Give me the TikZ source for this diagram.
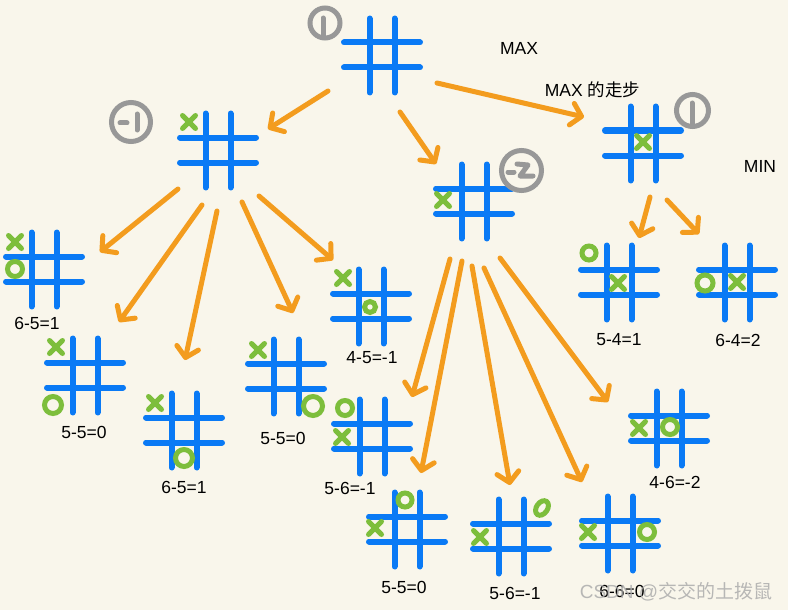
\documentclass[tikz,border=0pt]{standalone}
\usepackage{fontspec}
\setmainfont{Liberation Sans}
\newfontfamily\cjk{Noto Sans CJK SC}
\usetikzlibrary{arrows.meta}
\definecolor{bg}{RGB}{249,246,235}
\definecolor{bblue}{RGB}{10,122,245}
\definecolor{aorange}{RGB}{243,156,30}
\definecolor{mgreen}{RGB}{125,190,60}
\definecolor{rgray}{RGB}{152,152,152}
\definecolor{wgray}{RGB}{172,172,172}
\begin{document}
\begin{tikzpicture}[x=1pt,y=-1pt,
  gridline/.style={bblue,line width=6pt,line cap=round},
  arrowline/.style={aorange,line width=5pt,line cap=round,-{Straight Barb[length=10pt,width=22pt,round]}},
  xline/.style={mgreen,line width=5pt,line cap=round},
  oline/.style={mgreen,line width=5pt},
  ring/.style={rgray,line width=5pt},
  digit/.style={rgray,line width=5pt,line cap=round,line join=round},
  lbl/.style={font=\fontsize{17.5}{19}\selectfont,text=black,inner sep=0pt},
  board/.pic={
    \draw[gridline] (-12.5,-36.5) -- (-12.5,37.5) (12.5,-36.5) -- (12.5,37.5)
                    (-38,-12.5) -- (38,-12.5) (-38,12.5) -- (38,12.5);},
  xmk/.pic={\draw[xline] (-6.5,-6.5) -- (6.5,6.5) (-6.5,6.5) -- (6.5,-6.5);},
]
\useasboundingbox (0,0) rectangle (788,610);
\fill[bg] (0,0) rectangle (788,610);

% ---- boards ----
\coordinate (R) at (382,55);
\coordinate (A) at (218,150);
\coordinate (B) at (474,201);
\coordinate (C) at (643,143);
\coordinate (A1) at (44,269);
\coordinate (A2) at (85,375);
\coordinate (A3) at (184,430);
\coordinate (A4) at (286,376);
\coordinate (A5) at (371,306);
\coordinate (B1) at (372,436);
\coordinate (B2) at (407,529);
\coordinate (B3) at (511,536);
\coordinate (B4) at (620,533);
\coordinate (B5) at (669,428);
\coordinate (C1) at (619,282);
\coordinate (C2) at (737,282);
\foreach \b in {R,A,B,C,A1,A2,A3,A4,A5,B1,B2,B3,B4,B5,C1,C2}
  \pic at (\b) {board};

% ---- marks ----
\pic at (189,122) {xmk};
\pic at (443,200) {xmk};
\pic at (643,142) {xmk};
\pic at (15,242) {xmk};   \draw[oline] (15,269) circle (7.5pt);
\pic at (56,347) {xmk};   \draw[oline] (53,405) circle (8.5pt);
\pic at (155,403) {xmk};  \draw[oline] (184,458) circle (8.5pt);
\pic at (258,350) {xmk};  \draw[oline] (313,406) circle (9.5pt);
\pic at (343,278) {xmk};  \draw[oline] (370,307) circle (5.5pt);
\pic at (342,437) {xmk};  \draw[oline] (345,408) circle (7.5pt);
\pic at (375,528) {xmk};  \draw[oline] (405,500) circle (7pt);
\pic at (480,537) {xmk};
\begin{scope}[shift={(542,508)},rotate=55]
  \draw[oline] (0,0) ellipse (8pt and 5.5pt);
\end{scope}
\pic at (588,532) {xmk};  \draw[oline] (647,532) circle (7.5pt);
\pic at (639,428) {xmk};  \draw[oline] (670,427) circle (7.5pt);
\pic at (618,283) {xmk};  \draw[oline] (589,253) circle (7pt);
\pic at (737,282) {xmk};  \draw[oline] (705,283) circle (8pt);

% ---- circled values ----
\draw[ring] (325,23) circle (15pt);
\draw[digit] (323,18) -- (323,37);
\draw[ring] (131,122) circle (19.5pt);
\draw[digit] (120,123) -- (127,123) (137,114) -- (137,130);
\draw[ring] (521.5,170.5) circle (20pt);
\draw[digit] (508,172) -- (514,172);
\draw[digit] (517,164) -- (528,165) -- (520,176) -- (533,176);
\draw[ring] (692.5,110.5) circle (16pt);
\draw[digit] (692,103) -- (692,124);

% ---- arrows ----
\coordinate (rA) at (328,91);   \coordinate (Ar) at (268,129);
\coordinate (rB) at (400,112);  \coordinate (Br) at (436,164);
\coordinate (rC) at (437,83);   \coordinate (Cr) at (584,117);
\coordinate (aA1) at (178,189); \coordinate (A1a) at (100,252);
\coordinate (aA2) at (202,205); \coordinate (A2a) at (119,322);
\coordinate (aA3) at (217,211); \coordinate (A3a) at (185,360);
\coordinate (aA4) at (242,202); \coordinate (A4a) at (293,313);
\coordinate (aA5) at (259,196); \coordinate (A5a) at (333,260);
\coordinate (bB1) at (450,259); \coordinate (B1b) at (412,397);
\coordinate (bB2) at (462,261); \coordinate (B2b) at (421,473);
\coordinate (bB3) at (472,266); \coordinate (B3b) at (510,485);
\coordinate (bB4) at (484,268); \coordinate (B4b) at (582,482);
\coordinate (bB5) at (500,258); \coordinate (B5b) at (608,402);
\coordinate (cC1) at (650,197); \coordinate (C1c) at (639,238);
\coordinate (cC2) at (667,200); \coordinate (C2c) at (699,234);
\foreach \s/\e in {rA/Ar,rB/Br,rC/Cr,aA1/A1a,aA2/A2a,aA3/A3a,aA4/A4a,aA5/A5a,
                   bB1/B1b,bB2/B2b,bB3/B3b,bB4/B4b,bB5/B5b,cC1/C1c,cC2/C2c}
  \draw[arrowline] (\s) -- (\e);

% ---- labels ----
\node[lbl] (lmax) at (519,48) {MAX};
\node[lbl] (lstep) at (592.5,90) {MAX {\cjk 的走步}};
\node[lbl] (lmin) at (760,166) {MIN};
\node[lbl] (lA1) at (37,323) {6-5=1};
\node[lbl] (lA2) at (84,432) {5-5=0};
\node[lbl] (lA3) at (184,487) {6-5=1};
\node[lbl] (lA4) at (283,438) {5-5=0};
\node[lbl] (lA5) at (372,358) {4-5=-1};
\node[lbl] (lB1) at (350,488) {5-6=-1};
\node[lbl] (lB2) at (404,587) {5-5=0};
\node[lbl] (lB3) at (515,593) {5-6=-1};
\node[lbl] (lB4) at (622,591) {6-6=0};
\node[lbl] (lB5) at (675,482) {4-6=-2};
\node[lbl] (lC1) at (619,340) {5-4=1};
\node[lbl] (lC2) at (738,340) {6-4=2};
\node[inner sep=0pt,text=wgray,opacity=0.85,font=\fontsize{19}{21}\selectfont] (wm) at (676,592) {CSDN @{\cjk 交交的土拨鼠}};
\end{tikzpicture}
\end{document}
